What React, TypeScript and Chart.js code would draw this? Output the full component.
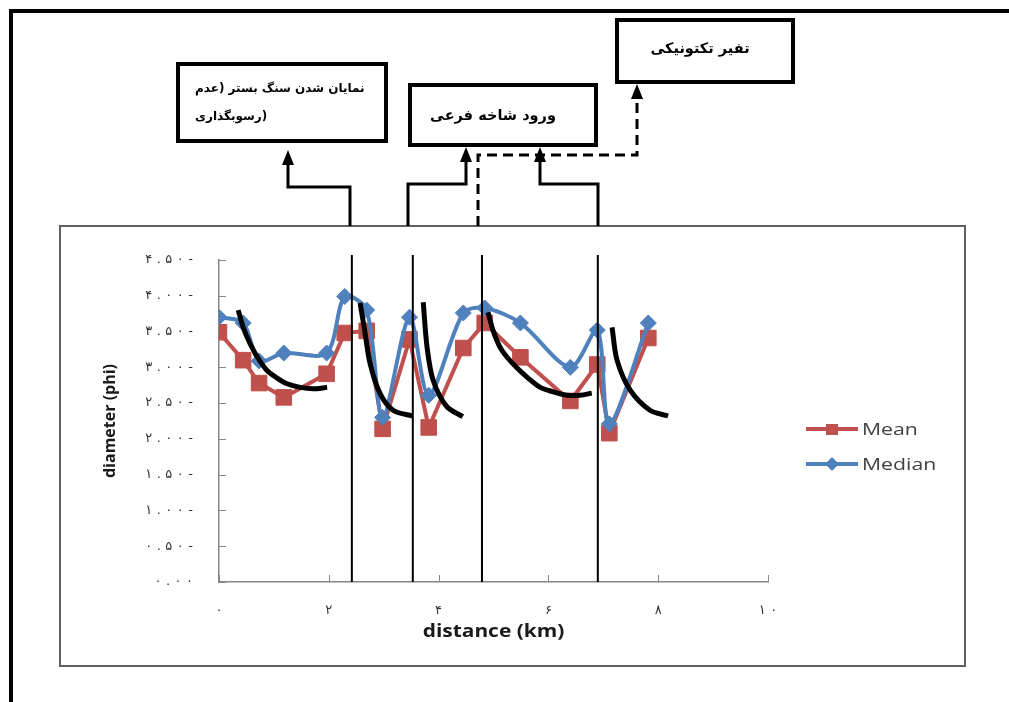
import React, { useEffect, useRef } from "react";
import { Chart, registerables } from "chart.js";

Chart.register(...registerables);

// ---- data ----
const distanceKm = [0, 0.44, 0.73, 1.18, 1.96, 2.29, 2.69, 2.98, 3.47, 3.82, 4.45, 4.84, 5.49, 6.4, 6.89, 7.11, 7.82];
const meanPhi = [3.49, 3.1, 2.78, 2.58, 2.91, 3.48, 3.51, 2.14, 3.39, 2.16, 3.27, 3.62, 3.14, 2.53, 3.04, 2.08, 3.41];
const medianPhi = [3.7, 3.62, 3.09, 3.2, 3.2, 3.99, 3.8, 2.3, 3.7, 2.61, 3.76, 3.83, 3.62, 3.0, 3.52, 2.21, 3.62];
const seriesNames = ["Mean", "Median"];
const seriesColors = ["#C0504D", "#4F81BD"];

const boundaryKm = [2.42, 3.53, 4.79, 6.9];
const boundaryTop = 4.57;

const decayCurve1 = [[0.35, 3.8], [0.44, 3.56], [0.56, 3.34], [0.71, 3.13], [0.87, 2.96], [1.06, 2.85], [1.24, 2.77], [1.48, 2.72], [1.71, 2.7], [1.97, 2.72]];
const decayCurve2 = [[2.57, 3.9], [2.66, 3.48], [2.75, 3.06], [2.93, 2.64], [3.17, 2.4], [3.52, 2.32]];
const decayCurve3 = [[3.72, 3.91], [3.79, 3.28], [3.9, 2.82], [4.15, 2.45], [4.44, 2.31]];
const decayCurve4 = [[4.9, 3.77], [4.99, 3.52], [5.12, 3.28], [5.26, 3.13], [5.43, 2.99], [5.63, 2.85], [5.85, 2.72], [6.08, 2.66], [6.34, 2.61], [6.58, 2.61], [6.79, 2.64]];
const decayCurve5 = [[7.16, 3.56], [7.25, 3.1], [7.49, 2.68], [7.85, 2.4], [8.18, 2.32]];
const decayCurves = [decayCurve1, decayCurve2, decayCurve3, decayCurve4, decayCurve5];

const yTickLabels = ["۰.۰۰", "۰.۵۰-", "۱.۰۰-", "۱.۵۰-", "۲.۰۰-", "۲.۵۰-", "۳.۰۰-", "۳.۵۰-", "۴.۰۰-", "۴.۵۰-"];
const xTickLabels = ["۰", "۲", "۴", "۶", "۸", "۱۰"];
const xTitle = "distance (km)";
const yTitle = "diameter (phi)";

const boxTexts = {
  bedrockLine1: "نمایان شدن سنگ بستر (عدم",
  bedrockLine2: "رسوبگذاری)",
  tributary: "ورود شاخه فرعی",
  tectonic: "تفیر تکتونیکی",
};

const TICK_SPACING = 4.5;

function installSpacedText(ctx: any) {
  if (ctx.__origFillText) return;
  const orig = ctx.fillText;
  ctx.__origFillText = orig;
  ctx.fillText = function (text: string, x: number, y: number) {
    const chars = Array.from(String(text));
    const widths = chars.map((c) => this.measureText(c).width);
    const total = widths.reduce((a, b) => a + b, 0) + TICK_SPACING * (chars.length - 1);
    const align = this.textAlign;
    let start = x;
    if (align === "right" || align === "end") start = x - total;
    else if (align === "center") start = x - total / 2;
    this.save();
    this.textAlign = "left";
    chars.forEach((c, i) => {
      orig.call(this, c, start, y);
      start += widths[i] + TICK_SPACING;
    });
    this.restore();
  };
}

function removeSpacedText(ctx: any) {
  if (ctx.__origFillText) {
    ctx.fillText = ctx.__origFillText;
    delete ctx.__origFillText;
  }
}

const decorPlugin = {
  id: "decor",
  beforeDraw(chart: any) {
    installSpacedText(chart.ctx);
  },
  beforeDatasetsDraw(chart: any) {
    const ctx = chart.ctx;
    removeSpacedText(ctx);
    const { left, bottom } = chart.chartArea;
    const xs = chart.scales.x;
    const ys = chart.scales.y;
    ctx.save();
    ctx.strokeStyle = "#868686";
    ctx.lineWidth = 1;
    ys.ticks.forEach((t: any) => {
      const p = Math.round(ys.getPixelForValue(t.value)) + 0.5;
      ctx.beginPath();
      ctx.moveTo(left, p);
      ctx.lineTo(left + 7, p);
      ctx.stroke();
    });
    xs.ticks.forEach((t: any) => {
      const p = Math.round(xs.getPixelForValue(t.value)) + 0.5;
      ctx.beginPath();
      ctx.moveTo(p, bottom);
      ctx.lineTo(p, bottom - 7);
      ctx.stroke();
    });
    ctx.restore();
  },
  afterDraw(chart: any) {
    const ctx = chart.ctx;
    removeSpacedText(ctx);
    const { left, right, top, bottom } = chart.chartArea;
    ctx.save();
    ctx.fillStyle = "#1a1a1a";
    // x title
    ctx.save();
    ctx.translate((left + right) / 2, 632);
    ctx.scale(1.23, 1);
    ctx.font = 'bold 17px "Open Sans"';
    ctx.textAlign = "center";
    ctx.textBaseline = "middle";
    ctx.fillText(xTitle, 0, 0);
    ctx.restore();
    // y title
    ctx.save();
    ctx.translate(110, (top + bottom) / 2);
    ctx.rotate(-Math.PI / 2);
    ctx.font = 'bold 16px "Open Sans"';
    ctx.textAlign = "center";
    ctx.textBaseline = "middle";
    ctx.fillText(yTitle, 0, 0);
    ctx.restore();
    // legend
    const rows = [429, 464];
    seriesNames.forEach((name, i) => {
      const y = rows[i];
      const c = seriesColors[i];
      ctx.strokeStyle = c;
      ctx.fillStyle = c;
      ctx.lineWidth = 4;
      ctx.beginPath();
      ctx.moveTo(806, y);
      ctx.lineTo(858, y);
      ctx.stroke();
      ctx.beginPath();
      if (i === 0) {
        ctx.rect(826, y - 5, 12, 11);
      } else {
        ctx.moveTo(832, y - 7);
        ctx.lineTo(839, y);
        ctx.lineTo(832, y + 7);
        ctx.lineTo(825, y);
        ctx.closePath();
      }
      ctx.fill();
      ctx.save();
      ctx.translate(862, y + 1);
      ctx.scale(1.25, 1);
      ctx.font = '17px "Open Sans"';
      ctx.fillStyle = "#404040";
      ctx.textBaseline = "middle";
      ctx.fillText(name, 0, 0);
      ctx.restore();
    });
    ctx.restore();
  },
};

function arrowHead(x: number, tip: number) {
  return `${x},${tip} ${x - 6},${tip + 15} ${x + 6},${tip + 15}`;
}

export default function App() {
  const ref = useRef<HTMLCanvasElement>(null);

  useEffect(() => {
    const datasets: any[] = [
      ...boundaryKm.map((x, i) => ({
        label: `boundary ${i + 1}`,
        data: [
          { x, y: 0 },
          { x, y: boundaryTop },
        ],
        borderColor: "#000",
        borderWidth: 2,
        pointRadius: 0,
        tension: 0,
        clip: false,
      })),
      ...decayCurves.map((c, i) => ({
        label: `trend ${i + 1}`,
        data: c.map(([x, y]) => ({ x, y })),
        borderColor: "#000",
        borderWidth: 5,
        pointRadius: 0,
        tension: 0.3,
        clip: false,
      })),
      {
        label: seriesNames[1],
        data: distanceKm.map((x, i) => ({ x, y: medianPhi[i] })),
        borderColor: seriesColors[1],
        backgroundColor: seriesColors[1],
        borderWidth: 4,
        pointStyle: "rectRot",
        pointRadius: 8,
        pointBorderWidth: 1,
        tension: 0.3,
      },
      {
        label: seriesNames[0],
        data: distanceKm.map((x, i) => ({ x, y: meanPhi[i] })),
        borderColor: seriesColors[0],
        backgroundColor: seriesColors[0],
        borderWidth: 4,
        pointStyle: "rect",
        pointRadius: 11,
        pointBorderWidth: 1,
        tension: 0,
      },
    ];

    const chart = new Chart(ref.current as HTMLCanvasElement, {
      type: "line",
      data: { datasets },
      options: {
        animation: false,
        responsive: false,
        devicePixelRatio: 1,
        layout: { padding: { left: 0, top: 260, right: 241, bottom: 0 } },
        plugins: { legend: { display: false }, tooltip: { enabled: false } },
        scales: {
          x: {
            type: "linear",
            min: 0,
            max: 10,
            grid: { display: false, drawTicks: false },
            border: { display: true, color: "#868686", width: 1.5 },
            ticks: {
              stepSize: 2,
              autoSkip: false,
              maxRotation: 0,
              padding: 21,
              color: "#333",
              font: { family: "DejaVu Sans", size: 13 },
              callback: (v: any) => xTickLabels[Math.round(Number(v) / 2)],
            },
            afterFit: (s: any) => {
              s.height = 120;
            },
          },
          y: {
            type: "linear",
            min: 0,
            max: 4.5,
            grid: { display: false, drawTicks: false },
            border: { display: true, color: "#868686", width: 1.5 },
            ticks: {
              stepSize: 0.5,
              autoSkip: false,
              padding: 26,
              color: "#333",
              font: { family: "DejaVu Sans", size: 13 },
              callback: (v: any) => yTickLabels[Math.round(Number(v) * 2)],
            },
            afterFit: (s: any) => {
              s.width = 219;
            },
          },
        },
      } as any,
      plugins: [decorPlugin],
    });
    return () => chart.destroy();
  }, []);

  const persian: React.CSSProperties = {
    position: "absolute",
    fontFamily: '"DejaVu Sans"',
    fontWeight: "bold",
    color: "#000",
    whiteSpace: "nowrap",
  };

  return (
    <div style={{ position: "absolute", left: 0, top: 0, width: 1009, height: 702, background: "#fff", overflow: "hidden" }}>
      <canvas ref={ref} width={1009} height={702} style={{ position: "absolute", left: 0, top: 0, width: 1009, height: 702 }} />
      <svg width={1009} height={702} style={{ position: "absolute", left: 0, top: 0, pointerEvents: "none" }}>
        <rect x={9} y={9} width={1000} height={4} fill="#000" />
        <rect x={9} y={9} width={4} height={693} fill="#000" />
        <rect x={60} y={226} width={905} height={440} fill="none" stroke="#5f5f5f" strokeWidth={2} />
        <rect x={178} y={64} width={208} height={77} fill="none" stroke="#000" strokeWidth={4} />
        <rect x={410} y={85} width={186} height={60} fill="none" stroke="#000" strokeWidth={4} />
        <rect x={617} y={20} width={176} height={62} fill="none" stroke="#000" strokeWidth={4} />
        <g fill="none" stroke="#000" strokeWidth={3}>
          <polyline points="350,226 350,187 288,187 288,162" />
          <polyline points="408,226 408,184 466,184 466,160" />
          <polyline points="598,226 598,184 540,184 540,160" />
          <polyline points="478,226 478,155 637,155 637,97" strokeDasharray="10 6" />
        </g>
        <g fill="#000">
          <polygon points={arrowHead(288, 150)} />
          <polygon points={arrowHead(466, 147)} />
          <polygon points={arrowHead(540, 147)} />
          <polygon points={arrowHead(637, 84)} />
        </g>
      </svg>
      <div style={{ ...persian, left: 195, top: 78, fontSize: 12, lineHeight: "20px" }}>{boxTexts.bedrockLine1}</div>
      <div style={{ ...persian, left: 195, top: 106, fontSize: 12, lineHeight: "20px" }}>{boxTexts.bedrockLine2}</div>
      <div style={{ ...persian, left: 400, width: 186, top: 103, fontSize: 14.5, lineHeight: "24px", textAlign: "center" }}>{boxTexts.tributary}</div>
      <div style={{ ...persian, left: 612, width: 176, top: 36, fontSize: 14.5, lineHeight: "24px", textAlign: "center" }}>{boxTexts.tectonic}</div>
    </div>
  );
}
